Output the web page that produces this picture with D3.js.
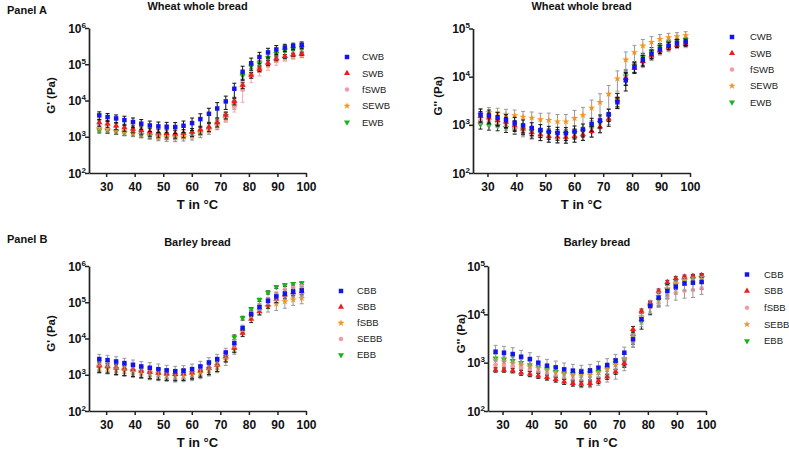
<!DOCTYPE html>
<meta charset="utf-8">
<style>
    body { margin: 0; background: #fff; }
    text { font-family: Arial, "Liberation Sans", sans-serif; fill: #111; }
    .tickLabel { font-size: 12px; font-weight: bold; }
    .axisTitle { font-size: 13px; font-weight: bold; }
    .yTitle { font-size: 11.5px; font-weight: bold; }
    .chartTitle { font-size: 11px; font-weight: bold; }
    .panelLabel { font-size: 11px; font-weight: bold; }
    .legend text { font-size: 9.5px; fill: #222; }
</style>
<body>
<script src="https://d3js.org/d3.v7.min.js"></script>
<script>
// temperature of each measurement point (°C)
const temps = [27.6, 30.5, 33.5, 36.4, 39.4, 42.3, 45.3, 48.3, 51.2, 54.2, 57.1, 60.1, 63.0,
               66.0, 68.9, 71.9, 74.9, 77.8, 80.8, 83.7, 86.7, 89.6, 92.6, 95.5, 98.5];
const xTicks = [30, 40, 50, 60, 70, 80, 90, 100];

// Panel A, wheat whole bread, G' (Pa)
const wheatGp_CWB  = [3890, 3490, 3200, 2880, 2540, 2290, 2050, 1930, 1890, 1850, 2010, 2380, 3070, 4300, 6030, 9440, 21100, 62100, 107000, 158000, 212000, 256000, 291000, 317000, 344000];
const wheatGp_SWB  = [2480, 2290, 2010, 1810, 1630, 1500, 1370, 1290, 1240, 1210, 1260, 1350, 1560, 1850, 2480, 3960, 9440, 26600, 50200, 73600, 108000, 142000, 165000, 183000, 195000];
const wheatGp_fSWB = [2380, 2140, 1930, 1730, 1560, 1430, 1320, 1240, 1190, 1160, 1210, 1290, 1460, 1730, 2290, 3490, 6870, 19800, 44300, 67600, 91000, 125000, 151000, 171000, 195000];
const wheatGp_SEWB = [1730, 1630, 1500, 1370, 1260, 1160, 1070, 1000, 960, 940, 980, 1040, 1210, 1500, 2010, 3200, 7160, 23400, 48200, 70500, 96900, 128000, 148000, 164000, 171000];
const wheatGp_EWB  = [1500, 1460, 1370, 1260, 1210, 1140, 1070, 1070, 1040, 1040, 1090, 1190, 1350, 1630, 2290, 3800, 8490, 48200, 87100, 108000, 148000, 195000, 241000, 262000, 279000];
// relative SD (error bars)
const wheatGpSd_CWB  = [0.25, 0.25, 0.25, 0.28, 0.3, 0.3, 0.32, 0.32, 0.32, 0.33, 0.35, 0.38, 0.4, 0.42, 0.45, 0.4, 0.42, 0.42, 0.38, 0.35, 0.3, 0.28, 0.22, 0.2, 0.2];
const wheatGpSd_SWB  = [0.22, 0.22, 0.22, 0.22, 0.22, 0.25, 0.25, 0.25, 0.25, 0.25, 0.25, 0.25, 0.25, 0.25, 0.25, 0.22, 0.2, 0.2, 0.18, 0.15, 0.15, 0.12, 0.12, 0.1, 0.1];
const wheatGpSd_fSWB = [0.22, 0.22, 0.2, 0.2, 0.2, 0.2, 0.22, 0.22, 0.22, 0.22, 0.22, 0.22, 0.22, 0.22, 0.25, 0.25, 0.3, 0.55, 0.3, 0.3, 0.25, 0.25, 0.2, 0.2, 0.15];
const wheatGpSd_SEWB = [0.2, 0.2, 0.2, 0.2, 0.2, 0.2, 0.2, 0.22, 0.22, 0.22, 0.22, 0.22, 0.22, 0.22, 0.22, 0.2, 0.2, 0.2, 0.15, 0.15, 0.12, 0.12, 0.1, 0.1, 0.1];
const wheatGpSd_EWB  = [0.15, 0.15, 0.15, 0.15, 0.15, 0.15, 0.15, 0.18, 0.18, 0.18, 0.18, 0.18, 0.18, 0.18, 0.2, 0.2, 0.2, 0.2, 0.15, 0.15, 0.12, 0.12, 0.1, 0.1, 0.1];

// Panel A, wheat whole bread, G'' (Pa)
const wheatGpp_CWB  = [1640, 1560, 1400, 1250, 1100, 970, 850, 776, 716, 683, 673, 728, 800, 1050, 1230, 1640, 2940, 8400, 15600, 22100, 29900, 37400, 43800, 49700, 52200];
const wheatGpp_SWB  = [1510, 1400, 1250, 1140, 970, 826, 705, 631, 583, 565, 556, 583, 631, 740, 910, 1330, 3340, 9380, 15100, 20800, 27200, 35100, 41100, 45200, 47400];
const wheatGpp_fSWB = [1290, 1190, 1100, 970, 826, 705, 631, 583, 538, 521, 513, 538, 601, 705, 867, 1250, 3090, 9840, 15100, 19200, 25500, 31900, 37400, 42400, 44500];
const wheatGpp_SEWB = [1640, 1830, 1770, 1640, 1560, 1460, 1400, 1290, 1250, 1170, 1170, 1370, 1590, 2250, 2940, 4380, 9100, 22500, 31900, 43800, 52200, 60200, 65100, 68300, 71600];
const wheatGpp_EWB  = [1020, 970, 940, 867, 800, 800, 740, 705, 683, 662, 652, 683, 740, 867, 1100, 1510, 3450, 10200, 16400, 25500, 33400, 42400, 51300, 55600, 58300];
const wheatGppSd_CWB  = [0.3, 0.3, 0.3, 0.3, 0.3, 0.3, 0.3, 0.3, 0.3, 0.3, 0.3, 0.3, 0.3, 0.3, 0.3, 0.28, 0.25, 0.4, 0.25, 0.25, 0.2, 0.2, 0.18, 0.18, 0.15];
const wheatGppSd_SWB  = [0.25, 0.25, 0.25, 0.25, 0.25, 0.25, 0.25, 0.25, 0.25, 0.25, 0.25, 0.25, 0.25, 0.25, 0.25, 0.3, 0.35, 0.3, 0.2, 0.2, 0.15, 0.12, 0.1, 0.1, 0.1];
const wheatGppSd_fSWB = [0.2, 0.2, 0.2, 0.2, 0.2, 0.2, 0.2, 0.2, 0.2, 0.2, 0.2, 0.2, 0.2, 0.2, 0.2, 0.2, 0.25, 0.3, 0.2, 0.2, 0.15, 0.12, 0.12, 0.1, 0.1];
const wheatGppSd_SEWB = [0.3, 0.25, 0.25, 0.28, 0.3, 0.3, 0.32, 0.35, 0.4, 0.4, 0.4, 0.45, 0.45, 0.45, 0.5, 0.5, 0.45, 0.45, 0.4, 0.35, 0.3, 0.25, 0.22, 0.2, 0.2];
const wheatGppSd_EWB  = [0.2, 0.2, 0.2, 0.2, 0.2, 0.2, 0.2, 0.2, 0.2, 0.2, 0.2, 0.2, 0.2, 0.2, 0.2, 0.2, 0.3, 0.35, 0.25, 0.2, 0.2, 0.15, 0.12, 0.12, 0.1];

// Panel B, barley bread, G' (Pa)
const barleyGp_CBB  = [2710, 2540, 2330, 2100, 1890, 1700, 1560, 1430, 1320, 1240, 1290, 1430, 1700, 2190, 2710, 4130, 7470, 19400, 47200, 73600, 110000, 145000, 171000, 191000, 208000];
const barleyGp_SBB  = [1770, 1700, 1560, 1460, 1370, 1260, 1190, 1110, 1070, 1040, 1070, 1160, 1320, 1530, 1890, 3200, 5440, 14100, 34300, 55900, 85300, 122000, 161000, 187000, 199000];
const barleyGp_fSBB = [1590, 1500, 1370, 1290, 1210, 1140, 1040, 980, 940, 900, 920, 980, 1110, 1320, 1630, 2590, 4890, 15700, 42400, 59600, 76700, 91000, 105000, 117000, 130000];
const barleyGp_SEBB = [1890, 1770, 1630, 1530, 1430, 1320, 1240, 1160, 1110, 1070, 1110, 1210, 1370, 1630, 2010, 3070, 5800, 18200, 48200, 80000, 122000, 171000, 221000, 246000, 273000];
const barleyGp_EBB  = [1700, 1590, 1460, 1370, 1290, 1190, 1110, 1070, 1020, 1000, 1020, 1110, 1240, 1460, 1770, 3070, 10900, 36600, 64800, 117000, 187000, 262000, 298000, 324000, 338000];
const barleyGpSd_CBB  = [0.35, 0.35, 0.35, 0.35, 0.35, 0.35, 0.38, 0.38, 0.38, 0.38, 0.38, 0.38, 0.38, 0.35, 0.35, 0.3, 0.25, 0.2, 0.2, 0.2, 0.2, 0.25, 0.3, 0.3, 0.3];
const barleyGpSd_SBB  = [0.35, 0.35, 0.35, 0.35, 0.35, 0.35, 0.35, 0.35, 0.35, 0.35, 0.35, 0.35, 0.35, 0.35, 0.35, 0.3, 0.25, 0.2, 0.2, 0.2, 0.2, 0.2, 0.2, 0.2, 0.2];
const barleyGpSd_fSBB = [0.3, 0.3, 0.3, 0.3, 0.3, 0.3, 0.3, 0.3, 0.3, 0.3, 0.3, 0.3, 0.3, 0.3, 0.3, 0.3, 0.25, 0.2, 0.2, 0.25, 0.3, 0.35, 0.35, 0.3, 0.3];
const barleyGpSd_SEBB = [0.3, 0.3, 0.3, 0.3, 0.3, 0.3, 0.3, 0.3, 0.3, 0.3, 0.3, 0.3, 0.3, 0.3, 0.3, 0.25, 0.25, 0.2, 0.15, 0.15, 0.12, 0.12, 0.1, 0.1, 0.1];
const barleyGpSd_EBB  = [0.3, 0.3, 0.3, 0.3, 0.3, 0.3, 0.3, 0.3, 0.3, 0.3, 0.3, 0.3, 0.3, 0.3, 0.3, 0.25, 0.15, 0.12, 0.1, 0.1, 0.1, 0.08, 0.08, 0.08, 0.08];

// Panel B, barley bread, G'' (Pa)
const barleyGpp_CBB  = [1690, 1610, 1510, 1330, 1190, 1000, 867, 800, 728, 683, 652, 683, 788, 895, 1100, 1610, 3040, 7890, 14900, 22100, 30400, 37400, 43800, 45200, 46700];
const barleyGpp_SBB  = [705, 705, 683, 621, 583, 538, 497, 452, 404, 373, 362, 373, 418, 513, 652, 970, 4890, 11700, 17400, 30400, 45900, 55600, 60200, 62100, 64100];
const barleyGpp_fSBB = [895, 867, 826, 788, 705, 652, 583, 530, 474, 438, 404, 404, 452, 530, 652, 970, 2940, 8670, 14000, 17400, 21400, 28100, 30900, 31900, 34500];
const barleyGpp_SEBB = [1140, 1050, 970, 895, 826, 764, 683, 621, 583, 556, 538, 556, 621, 728, 895, 1230, 3730, 8950, 14900, 23900, 34500, 43800, 51300, 55600, 58300];
const barleyGpp_EBB  = [1230, 1170, 1100, 1000, 895, 826, 728, 652, 601, 583, 583, 601, 652, 764, 970, 1140, 3450, 7050, 14000, 19800, 31900, 40500, 49700, 53000, 55600];
const barleyGppSd_CBB  = [0.35, 0.35, 0.35, 0.35, 0.35, 0.35, 0.35, 0.35, 0.35, 0.35, 0.35, 0.35, 0.35, 0.35, 0.35, 0.3, 0.3, 0.3, 0.3, 0.3, 0.3, 0.3, 0.3, 0.3, 0.3];
const barleyGppSd_SBB  = [0.1, 0.1, 0.1, 0.12, 0.12, 0.12, 0.12, 0.12, 0.12, 0.12, 0.12, 0.12, 0.12, 0.12, 0.12, 0.12, 0.15, 0.1, 0.1, 0.1, 0.1, 0.08, 0.08, 0.08, 0.08];
const barleyGppSd_fSBB = [0.25, 0.25, 0.25, 0.25, 0.25, 0.25, 0.25, 0.25, 0.25, 0.25, 0.25, 0.25, 0.25, 0.25, 0.3, 0.3, 0.3, 0.2, 0.2, 0.2, 0.3, 0.3, 0.3, 0.3, 0.25];
const barleyGppSd_SEBB = [0.3, 0.3, 0.3, 0.3, 0.3, 0.3, 0.3, 0.3, 0.3, 0.3, 0.3, 0.3, 0.3, 0.3, 0.3, 0.3, 0.3, 0.3, 0.3, 0.3, 0.25, 0.2, 0.2, 0.2, 0.2];
const barleyGppSd_EBB  = [0.25, 0.25, 0.25, 0.25, 0.25, 0.25, 0.25, 0.25, 0.25, 0.25, 0.25, 0.25, 0.25, 0.25, 0.25, 0.3, 0.3, 0.3, 0.3, 0.25, 0.25, 0.2, 0.2, 0.2, 0.2];

// marker styles
const BLUE = "#1414f0", RED = "#ee1c1c", PINK = "#f59aa3", ORANGE = "#f7921e", GREEN = "#19b419";
const markerSq = d3.symbol().type(d3.symbolSquare).size(20);
const markerTri = d3.symbol().type(d3.symbolTriangle).size(16);
const markerCirc = d3.symbol().type(d3.symbolCircle).size(16);
const markerStar = d3.symbol().type(d3.symbolStar).size(16);

function series(name, values, sd, color, shape, barColor, flip) {
    return {name: name, values: values, sd: sd, color: color, shape: shape, barColor: barColor, flip: flip || false};
}

const charts = [
    {left: 89, right: 306, top: 28, bottom: 173, xMin: 24, yMax: 1e6,
     title: "Wheat whole bread", titleY: 10, yLabel: "G' (Pa)", yLabelX: 51,
     legX: 347, legTx: 362, legY: 57, legDy: 16.3,
     series: [series("CWB", wheatGp_CWB, wheatGpSd_CWB, BLUE, markerSq, "#111"),
              series("SWB", wheatGp_SWB, wheatGpSd_SWB, RED, markerTri, "#222"),
              series("fSWB", wheatGp_fSWB, wheatGpSd_fSWB, PINK, markerCirc, "#f2a9b0"),
              series("SEWB", wheatGp_SEWB, wheatGpSd_SEWB, ORANGE, markerStar, "#888"),
              series("EWB", wheatGp_EWB, wheatGpSd_EWB, GREEN, markerTri, "#222", true)]},
    {left: 473, right: 690, top: 28.5, bottom: 173, xMin: 25, yMax: 1e5,
     title: "Wheat whole bread", titleY: 10, yLabel: "G'' (Pa)", yLabelX: 438,
     legX: 732, legTx: 750, legY: 37, legDy: 16.3,
     series: [series("CWB", wheatGpp_CWB, wheatGppSd_CWB, BLUE, markerSq, "#111"),
              series("SWB", wheatGpp_SWB, wheatGppSd_SWB, RED, markerTri, "#222"),
              series("fSWB", wheatGpp_fSWB, wheatGppSd_fSWB, PINK, markerCirc, "#999"),
              series("SEWB", wheatGpp_SEWB, wheatGppSd_SEWB, ORANGE, markerStar, "#999"),
              series("EWB", wheatGpp_EWB, wheatGppSd_EWB, GREEN, markerTri, "#222", true)]},
    {left: 89, right: 306, top: 266, bottom: 411, xMin: 24, yMax: 1e6,
     title: "Barley bread", titleY: 246, yLabel: "G' (Pa)", yLabelX: 51,
     legX: 341, legTx: 357, legY: 291, legDy: 16,
     series: [series("CBB", barleyGp_CBB, barleyGpSd_CBB, BLUE, markerSq, "#999"),
              series("SBB", barleyGp_SBB, barleyGpSd_SBB, RED, markerTri, "#222"),
              series("fSBB", barleyGp_fSBB, barleyGpSd_fSBB, ORANGE, markerStar, "#999"),
              series("SEBB", barleyGp_SEBB, barleyGpSd_SEBB, PINK, markerCirc, "#999"),
              series("EBB", barleyGp_EBB, barleyGpSd_EBB, GREEN, markerTri, "#222", true)]},
    {left: 488, right: 706, top: 266, bottom: 411, xMin: 25, yMax: 1e5,
     title: "Barley bread", titleY: 246, yLabel: "G'' (Pa)", yLabelX: 461,
     legX: 747, legTx: 764, legY: 274.5, legDy: 16.6,
     series: [series("CBB", barleyGpp_CBB, barleyGppSd_CBB, BLUE, markerSq, "#999"),
              series("SBB", barleyGpp_SBB, barleyGppSd_SBB, RED, markerTri, "#222"),
              series("fSBB", barleyGpp_fSBB, barleyGppSd_fSBB, PINK, markerCirc, "#999"),
              series("SEBB", barleyGpp_SEBB, barleyGppSd_SEBB, ORANGE, markerStar, "#999"),
              series("EBB", barleyGpp_EBB, barleyGppSd_EBB, GREEN, markerTri, "#222", true)]}
];

const svg = d3.select("body").append("svg")
    .attr("width", 789)
    .attr("height", 450);

svg.append("text").attr("class", "panelLabel").attr("x", 7).attr("y", 14).text("Panel A");
svg.append("text").attr("class", "panelLabel").attr("x", 7).attr("y", 243).text("Panel B");

function drawChart(c) {
    let g = svg.append("g");
    let x = d3.scaleLinear().domain([c.xMin, 100]).range([c.left, c.right]);
    let y = d3.scaleLog().domain([100, c.yMax]).range([c.bottom, c.top]);
    let decades = [];
    for (let v = 100; v <= c.yMax; v *= 10) decades.push(v);

    // x axis
    let xAxis = g.append("g")
        .attr("transform", "translate(0," + c.bottom + ")")
        .call(d3.axisBottom(x).tickValues(xTicks).tickSize(4).tickSizeOuter(0).tickPadding(5));
    xAxis.selectAll("text").attr("class", "tickLabel").attr("fill", "#111");

    // y axis, labels written as 10 with a superscript power
    let yAxis = g.append("g")
        .attr("transform", "translate(" + c.left + ",0)")
        .call(d3.axisLeft(y).tickValues(decades).tickSize(4).tickSizeOuter(0).tickFormat(""));
    decades.forEach(function(v) {
        let t = g.append("text").attr("class", "tickLabel")
            .attr("x", c.left - 3).attr("y", y(v) + 4.5)
            .attr("text-anchor", "end");
        t.append("tspan").text("10");
        t.append("tspan").attr("dy", -5).style("font-size", "8px").text(Math.round(Math.log10(v)));
    });
    [xAxis, yAxis].forEach(function(a) {
        a.select(".domain").attr("stroke", "#222").attr("stroke-width", 1.7);
        a.selectAll(".tick line").attr("stroke", "#222").attr("stroke-width", 1.5);
    });

    // titles
    g.append("text").attr("class", "chartTitle")
        .attr("x", (c.left + c.right) / 2).attr("y", c.titleY)
        .attr("text-anchor", "middle").text(c.title);
    g.append("text").attr("class", "axisTitle")
        .attr("x", (c.left + c.right) / 2).attr("y", c.bottom + 36)
        .attr("text-anchor", "middle").text("T in °C");
    g.append("text").attr("class", "yTitle")
        .attr("transform", "translate(" + c.yLabelX + "," + ((c.top + c.bottom) / 2 - 5) + ") rotate(-90)")
        .attr("text-anchor", "middle").attr("dy", "0.35em").text(c.yLabel);

    // data, last series first so the first one ends on top
    c.series.slice().reverse().forEach(function(s) {
        let pts = temps.map(function(t, i) {
            return {t: t, v: s.values[i], lo: s.values[i] * (1 - s.sd[i]), hi: s.values[i] * (1 + s.sd[i])};
        });
        let sg = g.append("g");
        let bars = sg.selectAll("g.err").data(pts).join("g").attr("class", "err")
            .attr("stroke", s.barColor).attr("stroke-width", 1);
        bars.append("line")
            .attr("x1", d => x(d.t)).attr("x2", d => x(d.t))
            .attr("y1", d => y(d.lo)).attr("y2", d => y(d.hi));
        bars.append("line")
            .attr("x1", d => x(d.t) - 2).attr("x2", d => x(d.t) + 2)
            .attr("y1", d => y(d.hi)).attr("y2", d => y(d.hi));
        bars.append("line")
            .attr("x1", d => x(d.t) - 2).attr("x2", d => x(d.t) + 2)
            .attr("y1", d => y(d.lo)).attr("y2", d => y(d.lo));
        sg.selectAll("path.mark").data(pts).join("path").attr("class", "mark")
            .attr("d", s.shape)
            .attr("fill", s.color)
            .attr("transform", d => "translate(" + x(d.t) + "," + y(d.v) + ")" + (s.flip ? " rotate(180)" : ""));
    });

    // legend
    let leg = g.append("g").attr("class", "legend");
    c.series.forEach(function(s, i) {
        let ly = c.legY + i * c.legDy;
        leg.append("path").attr("d", s.shape).attr("fill", s.color)
            .attr("transform", "translate(" + c.legX + "," + ly + ")" + (s.flip ? " rotate(180)" : ""));
        leg.append("text").attr("x", c.legTx).attr("y", ly).attr("dy", "0.35em").text(s.name);
    });
}

charts.forEach(drawChart);
</script>
</body>
